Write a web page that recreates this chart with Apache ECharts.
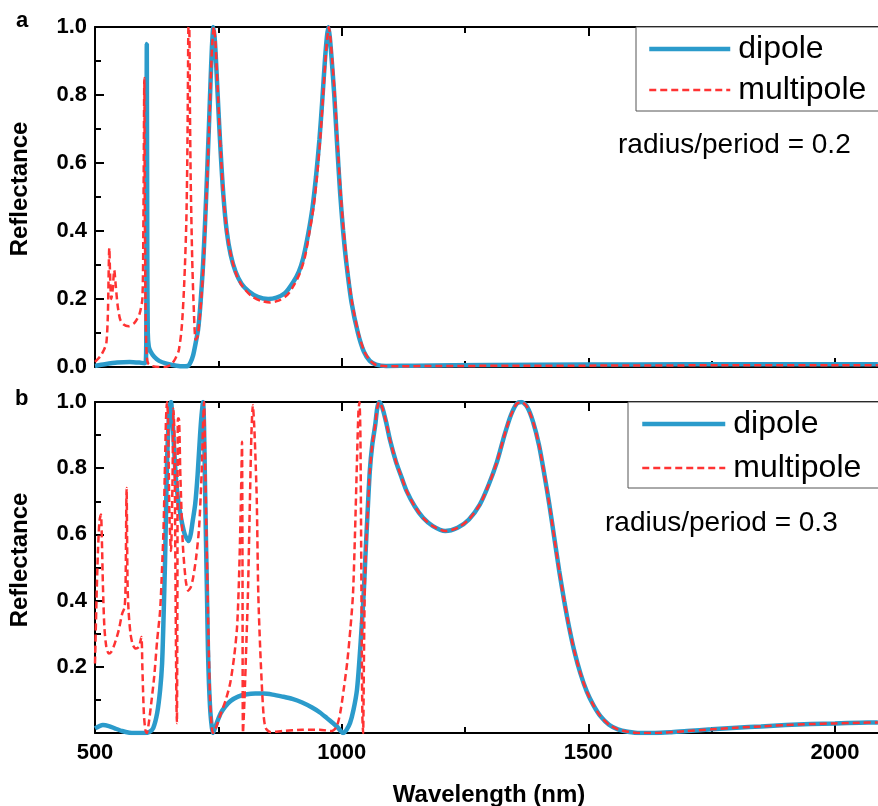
<!DOCTYPE html>
<html><head><meta charset="utf-8">
<script src="https://cdn.jsdelivr.net/npm/echarts@6/dist/echarts.min.js"></script>
<style>html,body{margin:0;padding:0;background:#fff}#c{width:878px;height:806px}</style>
</head><body><div id="c"></div><script>
// Wavelength (nm), reflectance pairs
const aDipole = [[500,0.003],[520,0.008],[545,0.013],[570,0.015],[590,0.013],[600,0.011],[603,0.015],[604,0.1],[605,0.95],[606,0.35],[607,0.1],[609,0.06],[613,0.045],[620,0.03],[630,0.018],[645,0.01],[660,0.005],[675,0.002],[688,0.003],[694,0.015],[699,0.035],[704,0.07],[709,0.11],[714,0.19],[719,0.3],[723,0.42],[727,0.56],[731,0.71],[734,0.83],[737,0.94],[740,1.0],[743,0.96],[746,0.88],[749,0.79],[754,0.65],[760,0.51],[767,0.4],[775,0.33],[785,0.28],[797,0.245],[812,0.222],[830,0.206],[851,0.2],[868,0.204],[885,0.217],[902,0.25],[913,0.28],[922,0.32],[932,0.39],[941,0.47],[948,0.56],[955,0.67],[961,0.79],[966,0.9],[970,0.97],[973,1.0],[976,0.97],[980,0.9],[985,0.8],[991,0.65],[997,0.51],[1003,0.4],[1010,0.3],[1020,0.19],[1033,0.1],[1045,0.045],[1057,0.018],[1070,0.007],[1090,0.003],[1150,0.004],[1300,0.006],[1500,0.007],[1700,0.008],[1900,0.008],[2087,0.008]];
const aMultipole = [[500,0.015],[510,0.03],[518,0.05],[523,0.07],[526,0.15],[529,0.35],[531,0.25],[533,0.2],[536,0.23],[539,0.285],[542,0.24],[546,0.18],[551,0.14],[558,0.125],[568,0.12],[580,0.13],[590,0.155],[596,0.2],[598,0.4],[600,0.85],[601,0.45],[603,0.12],[605,0.03],[608,0.01],[615,0.003],[630,0.0],[645,0.001],[655,0.008],[663,0.025],[670,0.05],[676,0.12],[681,0.25],[685,0.42],[687,0.6],[688.5,0.85],[689.5,1.0],[691,1.0],[692.5,0.75],[694,0.55],[697,0.32],[700,0.18],[704,0.08],[708,0.09],[712,0.14],[716,0.21],[720,0.3],[724,0.43],[728,0.57],[732,0.73],[735,0.86],[738,0.96],[741,1.0],[744,0.96],[747,0.87],[750,0.78],[755,0.63],[761,0.49],[768,0.39],[777,0.32],[787,0.27],[800,0.235],[816,0.21],[835,0.195],[855,0.19],[872,0.195],[890,0.212],[905,0.245],[915,0.275],[925,0.32],[934,0.39],[943,0.47],[950,0.56],[957,0.68],[962,0.79],[967,0.9],[971,0.97],[974,1.0],[977,0.97],[981,0.9],[986,0.8],[992,0.65],[998,0.51],[1004,0.4],[1011,0.3],[1021,0.19],[1034,0.1],[1046,0.045],[1058,0.018],[1070,0.006],[1090,0.002],[1200,0.003],[1500,0.004],[1800,0.005],[2087,0.005]];
const bDipole = [[500,0.014],[508,0.02],[516,0.024],[528,0.021],[540,0.014],[555,0.006],[570,0.001],[580,0.0],[600,0.0],[610,0.003],[618,0.015],[626,0.06],[632,0.13],[636,0.21],[639,0.35],[642,0.52],[644,0.67],[646,0.82],[649,0.93],[652,0.99],[654,1.0],[657,0.95],[660,0.87],[664,0.77],[668,0.71],[672,0.67],[677,0.63],[682,0.6],[687,0.585],[690,0.58],[694,0.6],[698,0.64],[703,0.69],[708,0.78],[713,0.9],[716,0.96],[719,1.0],[721,0.93],[723,0.75],[725,0.58],[727,0.42],[729,0.25],[731,0.15],[734,0.06],[737,0.015],[739,0.0],[742,0.01],[748,0.035],[755,0.06],[764,0.08],[775,0.097],[790,0.11],[808,0.117],[825,0.119],[841,0.119],[860,0.116],[880,0.11],[900,0.103],[920,0.092],[940,0.077],[956,0.062],[970,0.045],[982,0.03],[990,0.02],[997,0.008],[1003,0.0],[1010,0.01],[1017,0.03],[1024,0.07],[1031,0.13],[1036,0.22],[1041,0.33],[1045,0.43],[1048,0.53],[1052,0.65],[1057,0.79],[1062,0.87],[1068,0.93],[1072,0.98],[1076,1.0],[1082,0.985],[1090,0.94],[1098,0.885],[1110,0.82],[1122,0.77],[1132,0.73],[1148,0.685],[1165,0.65],[1185,0.625],[1210,0.61],[1235,0.62],[1258,0.645],[1280,0.69],[1298,0.75],[1315,0.82],[1330,0.9],[1343,0.96],[1355,0.995],[1365,1.0],[1376,0.985],[1388,0.94],[1400,0.87],[1411,0.78],[1421,0.69],[1431,0.59],[1441,0.49],[1451,0.4],[1461,0.32],[1472,0.245],[1484,0.18],[1497,0.125],[1510,0.085],[1525,0.05],[1542,0.025],[1560,0.011],[1580,0.004],[1605,0.0],[1635,0.0],[1665,0.002],[1700,0.006],[1750,0.011],[1800,0.016],[1850,0.02],[1900,0.024],[1950,0.027],[2000,0.029],[2050,0.031],[2087,0.032]];
const bMultipole = [[500,0.21],[503,0.4],[506,0.55],[509,0.64],[512,0.66],[514,0.58],[516,0.45],[519,0.32],[523,0.26],[528,0.24],[533,0.245],[540,0.27],[548,0.31],[555,0.36],[560,0.38],[562,0.45],[564,0.74],[566,0.45],[568,0.37],[572,0.3],[577,0.265],[583,0.255],[589,0.26],[594,0.29],[596,0.2],[599,0.06],[602,0.01],[605,0.0],[609,0.03],[614,0.09],[620,0.17],[626,0.28],[632,0.37],[636,0.5],[639,0.62],[642,0.82],[644,0.95],[646,1.0],[648,0.95],[651,0.65],[654,0.55],[657,0.75],[659,0.98],[661,0.9],[663,0.5],[665,0.1],[666,0.03],[667,0.4],[668,0.95],[670,0.95],[673,0.78],[678,0.57],[684,0.46],[689,0.43],[694,0.44],[699,0.47],[705,0.53],[711,0.62],[716,0.78],[719,0.93],[721,1.0],[723,0.85],[725,0.68],[727,0.52],[730,0.3],[733,0.11],[736,0.03],[739,0.0],[745,0.015],[753,0.05],[765,0.1],[774,0.15],[782,0.23],[788,0.32],[792,0.47],[795,0.65],[797,0.8],[798,0.88],[799,0.5],[800,0.0],[803,0.1],[807,0.28],[810,0.42],[814,0.7],[817,0.9],[820,0.99],[823,0.92],[826,0.8],[828,0.7],[831,0.42],[835,0.25],[839,0.12],[842,0.05],[846,0.015],[855,0.003],[880,0.006],[920,0.01],[955,0.01],[980,0.006],[990,0.02],[997,0.06],[1004,0.13],[1011,0.21],[1018,0.32],[1023,0.42],[1027,0.6],[1031,0.82],[1034,0.97],[1036,1.0],[1038,0.9],[1040,0.45],[1042,0.05],[1043.5,0.0],[1045,0.2],[1047,0.45],[1050,0.58],[1054,0.7],[1057,0.79],[1062,0.87],[1068,0.93],[1072,0.98],[1076,1.0],[1082,0.985],[1090,0.94],[1098,0.885],[1110,0.82],[1122,0.77],[1132,0.73],[1148,0.685],[1165,0.65],[1185,0.625],[1210,0.61],[1235,0.62],[1258,0.645],[1280,0.69],[1298,0.75],[1315,0.82],[1330,0.9],[1343,0.96],[1355,0.995],[1365,1.0],[1376,0.985],[1388,0.94],[1400,0.87],[1411,0.78],[1421,0.69],[1431,0.59],[1441,0.49],[1451,0.4],[1461,0.32],[1472,0.245],[1484,0.18],[1497,0.125],[1510,0.085],[1525,0.05],[1542,0.025],[1560,0.011],[1580,0.004],[1605,0.0],[1635,0.0],[1665,0.002],[1700,0.006],[1750,0.011],[1800,0.016],[1850,0.02],[1900,0.024],[1950,0.027],[2000,0.029],[2050,0.031],[2087,0.032]];
const seriesNames = ['dipole', 'multipole'];
const panelLabels = ['a', 'b'];
const ratioLabels = ['radius/period = 0.2', 'radius/period = 0.3'];
const xTitle = 'Wavelength (nm)';
const yTitle = 'Reflectance';

const FONT = "'Liberation Sans', Arial, sans-serif";
const BLUE = '#2b9bcb';
const RED = '#ff3333';
const BLUE_LINE = {color: BLUE, width: 4.5};
const RED_LINE = {color: RED, width: 2.5, type: [7, 4]};

const chart = echarts.init(document.getElementById('c'), null, {renderer: 'canvas'});

function xAxis(gi, pos, showLabel) {
  return {
    type: 'value', gridIndex: gi, position: pos, min: 500, max: 2250, interval: 500,
    axisLine: {show: true, onZero: false, lineStyle: {color: '#000', width: 2}},
    axisTick: {show: true, inside: true, length: 9, lineStyle: {color: '#000', width: 2}},
    minorTick: {show: true, splitNumber: 2, length: 6, lineStyle: {color: '#000', width: 2}},
    axisLabel: {show: showLabel, color: '#000', fontFamily: FONT, fontWeight: 'bold', fontSize: 22, margin: 9,
      showMaxLabel: false, formatter: v => String(v)},
    splitLine: {show: false}
  };
}
function yAxis(gi, hideZero) {
  return {
    type: 'value', gridIndex: gi, position: 'left', min: 0, max: 1, interval: 0.2,
    axisLine: {show: true, lineStyle: {color: '#000', width: 2}},
    axisTick: {show: true, inside: true, length: 9, lineStyle: {color: '#000', width: 2}},
    minorTick: {show: true, splitNumber: 2, length: 6, lineStyle: {color: '#000', width: 2}},
    axisLabel: {color: '#000', fontFamily: FONT, fontWeight: 'bold', fontSize: 22, margin: 8,
      formatter: v => (hideZero && v === 0) ? '' : v.toFixed(1)},
    splitLine: {show: false}
  };
}
function lineSeries(name, data, xi, yi) {
  const dip = name === seriesNames[0];
  return {
    name, type: 'line', xAxisIndex: xi, yAxisIndex: yi, data, symbol: 'none',
    smooth: 0.25, clip: true, z: dip ? 2 : 3,
    lineStyle: dip ? BLUE_LINE : RED_LINE,
    itemStyle: {color: dip ? BLUE : RED, opacity: 0}
  };
}
function legend(left, top, gap, padTop, padBottom, padLeft, width) {
  return {
    show: true, orient: 'vertical', left, top, selectedMode: false,
    data: [
      {name: seriesNames[0], lineStyle: BLUE_LINE, itemStyle: {opacity: 0}},
      {name: seriesNames[1], lineStyle: RED_LINE, itemStyle: {opacity: 0}}
    ],
    itemWidth: width, itemHeight: 14, itemGap: gap,
    itemStyle: {opacity: 0},
    padding: [padTop, 80, padBottom, padLeft],
    borderColor: '#555', borderWidth: 1, backgroundColor: '#fff',
    textStyle: {color: '#000', fontFamily: FONT, fontSize: 32, lineHeight: 36, padding: [0, 0, 0, 3]}
  };
}

const option = {
  animation: false,
  backgroundColor: '#fff',
  grid: [
    {left: 95, top: 27, height: 340, right: -80.3, outerBoundsMode: 'none', containLabel: false},
    {left: 95, top: 402, height: 331, right: -80.3, outerBoundsMode: 'none', containLabel: false}
  ],
  xAxis: [xAxis(0, 'bottom', false), xAxis(0, 'top', false), xAxis(1, 'bottom', true), xAxis(1, 'top', false)],
  yAxis: [yAxis(0, false), yAxis(1, true)],
  legend: [legend(636, 27, 5, 4, 3, 11, 81), legend(628, 402, 8, 4, 2, 12, 83)],
  series: [
    lineSeries(seriesNames[0], aDipole, 0, 0),
    lineSeries(seriesNames[1], aMultipole, 0, 0),
    lineSeries(seriesNames[0], bDipole, 2, 1),
    lineSeries(seriesNames[1], bMultipole, 2, 1)
  ],
  graphic: [
    {type: 'text', left: 16, top: 10, style: {text: panelLabels[0], font: `bold 22px ${FONT}`, fill: '#000'}},
    {type: 'text', left: 15, top: 388, style: {text: panelLabels[1], font: `bold 22px ${FONT}`, fill: '#000'}},
    {type: 'text', left: 618, top: 131, style: {text: ratioLabels[0], font: `28px ${FONT}`, fill: '#000'}},
    {type: 'text', left: 605, top: 509, style: {text: ratioLabels[1], font: `28px ${FONT}`, fill: '#000'}},
    {type: 'text', x: 20, y: 189, rotation: Math.PI / 2, style: {text: yTitle, font: `bold 24px ${FONT}`, fill: '#000', align: 'center', verticalAlign: 'middle'}},
    {type: 'text', x: 20, y: 560, rotation: Math.PI / 2, style: {text: yTitle, font: `bold 24px ${FONT}`, fill: '#000', align: 'center', verticalAlign: 'middle'}},
    {type: 'text', x: 489, y: 795, style: {text: xTitle, font: `bold 24px ${FONT}`, fill: '#000', align: 'center', verticalAlign: 'middle'}}
  ]
};
chart.setOption(option);
</script></body></html>
